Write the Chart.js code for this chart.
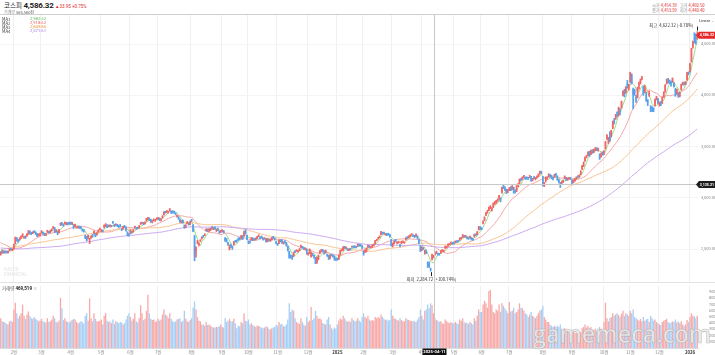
<!DOCTYPE html>
<html><head><meta charset="utf-8">
<script src="https://cdn.jsdelivr.net/npm/chart.js@4.4.1/dist/chart.umd.min.js"></script>
<style>
html,body{margin:0;padding:0;background:#fff;}
body{width:715px;height:355px;position:relative;overflow:hidden;font-family:"Noto Sans CJK KR","Noto Sans",sans-serif;}
.t{position:absolute;white-space:nowrap;line-height:1;}
canvas{position:absolute;left:0;}
.hl{position:absolute;left:0;width:715px;height:1px;background:#d0d0d0;}
</style></head><body>
<canvas id="price" width="715" height="268" style="top:15px"></canvas>
<canvas id="vol" width="715" height="72" style="top:283px"></canvas>
<div class="hl" style="top:14px"></div>
<div class="hl" style="top:282px;background:#e3e3e3"></div>

<div class="t" style="left:4px;top:2px;font-size:6.5px;color:#222;">코스피 <b style="font-size:8px;font-family:Roboto;letter-spacing:-0.2px">4,586.32</b> <span style="color:#e0262b;font-size:4.5px;font-family:Roboto">▲33.95 +0.75%</span></div>
<div class="t" style="left:4px;top:9.5px;font-size:4px;color:#888;">거래량 <span style="color:#555">565,560천</span></div>

<div class="t" style="left:2px;top:16.5px;font-size:4.2px;color:#444;line-height:4.1px;">MA1<br>MA2<br>MA3<br>MA4</div>
<div class="t" style="left:30px;top:16.5px;font-size:4.2px;line-height:4.1px;font-family:Roboto;">
<span style="color:#5cbf5c">2,982.52</span><br><span style="color:#ef6060">2,918.62</span><br><span style="color:#f39a3c">2,849.86</span><br><span style="color:#a877e6">2,571.61</span></div>

<div class="t" style="left:652px;top:3px;font-size:4.2px;color:#888;line-height:5px;">시가 <span style="color:#e0262b">4,454.39</span>&nbsp;&nbsp; 고가 <span style="color:#e0262b">4,460.50</span><br>종가 <span style="color:#e0262b">4,453.99</span>&nbsp;&nbsp; 저가 <span style="color:#e0262b">4,440.40</span></div>
<div class="t" style="left:699px;top:18.5px;font-size:4px;color:#333;font-family:Roboto;">Linear <span style="color:#999">⌄</span></div>

<div class="t" style="left:4px;top:268px;font-size:4.5px;color:#ebebeb;font-weight:bold;line-height:4.6px;font-family:Roboto;">NAVER<br>FINANCIAL</div>
<div class="t" style="left:2px;top:285.5px;font-size:4.5px;color:#555;">거래량 <b style="color:#222;font-family:Roboto">469,519</b> <span style="color:#aaa">×</span></div>

<div class="t" id="wm" style="left:533px;top:321px;font-size:25px;font-family:'Open Sans','Noto Sans',sans-serif;font-weight:600;color:rgba(232,232,232,0.9);-webkit-text-stroke:0.6px rgba(150,150,150,0.55);z-index:5;transform-origin:0 0;">gamemeca.com</div>

<script>
// ===== DATA (KOSPI daily, Jan 19 2024 – Jan 9 2026; one inner array per month) =====
const months = ['2024-01','2024-02','2024-03','2024-04','2024-05','2024-06','2024-07','2024-08','2024-09','2024-10','2024-11','2024-12',
 '2025-01','2025-02','2025-03','2025-04','2025-05','2025-06','2025-07','2025-08','2025-09','2025-10','2025-11','2025-12','2026-01'];
const tickLabels = ['','2월','3월','4월','5월','6월','7월','8월','9월','10월','11월','12월',
 '2025','2월','3월','4월','5월','6월','7월','8월','9월','10월','11월','12월','2026'];
const priceTicks = [2500, 3000, 3500, 4000, 4500];
const volumeTicks = [100, 200, 300, 400, 500, 600, 700, 800, 900];

// closes before the visible window (for moving averages)
const preClose = [2636,2592,2603,2608,2632,
 2667,2616,2605,2602,2580,2573,2605,2601,2591,2570,2525,2519,2504,2508,2515,2505,2537,2519,2543,2552,2561,2556,
 2563,2584,2582,2563,2548,2547,2536,2534,2536,2572,2601,2574,2559,2559,2508,2508,2496,2462,2465,
 2405,2403,2408,2402,2450,2479,2456,2436,2460,2462,2416,2375,2357,2383,2363,2299,2302,2310,2277,
 2301,2343,2368,2502,2443,2421,2427,2409,2403,2433,2486,2489,2469,2491,2510,2511,2514,2497,2496,2521,2522,2535,
 2505,2514,2495,2494,2492,2517,2525,2535,2510,2544,2563,2566,2568,2614,2600,2599,2602,2613,2655,
 2669,2607,2587,2578,2567,2561,2541,2540,2525,2525,2497,2436,2440];

const open = [
 [2450,2481,2471,2474,2477,2466,2486,2503,2491],
 [2506,2553,2611,2590,2589,2618,2638,2614,2623,2630,2650,2674,2658,2658,2676,2662,2644,2630,2637],
 [2660,2664,2648,2644,2665,2666,2667,2688,2706,2702,2673,2670,2660,2740,2755,2744,2750,2745,2755,2752],
 [2755,2750,2736,2720,2706,2713,2722,2716,2690,2680,2632,2624,2604,2590,2610,2640,2647,2650,2640,2669,2691],
 [2679,2681,2708,2731,2736,2720,2732,2721,2762,2739,2738,2736,2726,2736,2699,2698,2724,2714,2667,2644],
 [2650,2669,2670,2710,2706,2710,2710,2750,2754,2753,2748,2775,2795,2800,2788,2760,2782,2782,2791],
 [2795,2800,2786,2806,2835,2858,2866,2860,2876,2870,2868,2866,2851,2821,2813,2790,2770,2780,2727,2715,2750,2752,2740],
 [2783,2734,2630,2482,2560,2550,2580,2601,2627,2635,2680,2693,2680,2690,2716,2700,2712,2685,2698,2667,2672],
 [2676,2676,2610,2585,2560,2495,2540,2522,2541,2580,2589,2605,2606,2606,2630,2627,2681,2634],
 [2574,2578,2588,2609,2589,2597,2604,2630,2612,2625,2602,2600,2600,2575,2590,2581,2590,2620,2606,2575],
 [2550,2556,2586,2585,2553,2577,2560,2528,2474,2432,2420,2430,2476,2480,2475,2485,2512,2525,2515,2498,2497],
 [2450,2460,2426,2454,2434,2413,2370,2400,2458,2485,2490,2480,2470,2440,2428,2410,2444,2438,2426,2406],
 [2400,2400,2445,2490,2490,2523,2511,2500,2490,2503,2520,2525,2525,2520,2528,2545,2537,2530],
 [2480,2470,2475,2520,2530,2515,2525,2540,2552,2588,2600,2615,2640,2660,2660,2640,2645,2650,2640,2590],
 [2540,2555,2590,2560,2565,2540,2555,2570,2560,2590,2615,2615,2625,2642,2635,2628,2625,2625,2590,2530],
 [2490,2510,2460,2480,2370,2360,2300,2400,2420,2450,2460,2455,2450,2460,2485,2480,2510,2520,2530,2545,2555,2560],
 [2560,2570,2575,2578,2590,2605,2615,2630,2625,2615,2605,2610,2610,2600,2620,2645,2645,2690,2715],
 [2700,2750,2780,2830,2860,2880,2910,2880,2910,2950,2955,2975,2990,2990,3050,3110,3100,3075,3065],
 [3080,3095,3085,3100,3060,3065,3120,3140,3180,3185,3210,3200,3200,3195,3200,3205,3175,3200,3185,3200,3215,3240,3250],
 [3200,3130,3160,3195,3210,3225,3215,3190,3205,3230,3210,3175,3140,3145,3160,3190,3195,3180,3185,3195],
 [3170,3150,3165,3190,3210,3210,3230,3280,3315,3360,3400,3420,3450,3430,3460,3450,3475,3480,3470,3420,3400,3440],
 [3440,3480,3580,3550,3620,3600,3680,3760,3770,3830,3840,3860,3880,4000,4050,4030,4110,4100],
 [4130,4200,4060,4050,3980,3980,4100,4120,4160,4080,4030,4020,3950,4000,3880,3880,3870,3900,3970,3960],
 [3910,3930,3930,3990,4040,4120,4150,4140,4130,4130,4120,4060,4020,4020,3990,4060,4110,4120,4115,4150,4225],
 [4230,4330,4470,4560,4570,4579]
];
const high = [
 [2476,2491,2484,2483,2483,2481,2504,2506,2502],
 [2548,2617,2613,2594,2612,2629,2650,2623,2630,2650,2681,2678,2665,2670,2680,2669,2651,2648,2655],
 [2680,2669,2656,2652,2684,2673,2685,2696,2720,2712,2690,2675,2692,2756,2760,2746,2765,2760,2760,2762],
 [2765,2760,2738,2745,2717,2723,2725,2719,2694,2690,2636,2625,2637,2605,2630,2643,2677,2652,2660,2688,2705],
 [2690,2686,2736,2749,2740,2735,2737,2732,2771,2742,2746,2742,2730,2741,2700,2724,2730,2718,2669,2650],
 [2690,2675,2692,2724,2710,2715,2730,2757,2764,2760,2766,2800,2810,2805,2790,2778,2795,2786,2805],
 [2810,2805,2796,2826,2865,2870,2876,2870,2896,2873,2875,2870,2855,2832,2817,2794,2779,2784,2736,2738,2770,2757,2775],
 [2790,2740,2634,2522,2585,2560,2592,2620,2634,2650,2700,2698,2700,2706,2720,2709,2718,2694,2704,2679,2681],
 [2691,2682,2611,2603,2565,2540,2549,2527,2575,2584,2590,2609,2612,2633,2633,2675,2689,2636],
 [2580,2580,2613,2611,2603,2610,2625,2639,2620,2628,2605,2610,2602,2604,2596,2595,2614,2623,2611,2576],
 [2558,2590,2592,2592,2570,2583,2566,2530,2480,2445,2440,2472,2485,2494,2486,2505,2540,2528,2518,2511,2500],
 [2466,2502,2470,2458,2442,2420,2420,2443,2485,2496,2495,2485,2490,2450,2440,2445,2450,2445,2435,2412],
 [2410,2444,2490,2500,2525,2527,2522,2505,2500,2506,2530,2530,2533,2528,2550,2548,2545,2535],
 [2485,2490,2512,2540,2535,2528,2542,2550,2585,2595,2615,2630,2673,2665,2667,2652,2650,2655,2645,2595],
 [2560,2582,2595,2570,2578,2545,2578,2580,2570,2612,2620,2630,2640,2650,2640,2635,2648,2630,2595,2535],
 [2525,2515,2490,2490,2375,2375,2315,2450,2440,2465,2480,2460,2458,2485,2495,2490,2530,2528,2550,2555,2570,2565],
 [2570,2580,2580,2585,2610,2615,2642,2635,2632,2620,2612,2628,2615,2605,2646,2650,2672,2722,2720],
 [2710,2775,2815,2858,2880,2910,2925,2905,2950,2965,2975,2990,3025,3000,3105,3125,3110,3085,3080],
 [3100,3110,3120,3105,3070,3120,3140,3185,3190,3205,3220,3205,3205,3200,3220,3210,3190,3210,3200,3215,3235,3260,3260],
 [3210,3150,3205,3205,3235,3230,3220,3200,3230,3240,3215,3180,3150,3160,3175,3215,3200,3195,3200,3200],
 [3175,3175,3190,3205,3215,3225,3265,3317,3350,3400,3415,3450,3455,3465,3470,3475,3490,3490,3485,3430,3440,3450],
 [3460,3550,3617,3590,3646,3660,3750,3775,3815,3840,3885,3870,3945,4045,4060,4085,4146,4110],
 [4226,4210,4070,4060,4000,4080,4130,4160,4185,4090,4095,4030,3960,4040,3900,3890,3880,3965,3990,3970],
 [3935,3940,3985,4035,4105,4160,4165,4150,4140,4170,4125,4070,4060,4030,4030,4110,4130,4130,4135,4225,4230],
 [4315,4460,4530,4611,4600,4622.32]
];
const low = [
 [2441,2459,2462,2459,2461,2461,2483,2491,2484],
 [2496,2549,2578,2566,2586,2605,2620,2603,2603,2624,2644,2650,2640,2650,2660,2640,2620,2626,2630],
 [2655,2645,2630,2630,2662,2655,2660,2676,2698,2660,2668,2640,2655,2730,2730,2722,2742,2736,2735,2740],
 [2740,2738,2700,2716,2703,2705,2700,2696,2675,2665,2601,2580,2600,2554,2603,2618,2645,2620,2636,2664,2685],
 [2668,2667,2705,2720,2710,2716,2715,2716,2750,2718,2730,2717,2710,2717,2680,2695,2710,2675,2629,2627],
 [2648,2656,2666,2705,2693,2698,2705,2740,2745,2738,2742,2770,2786,2776,2760,2755,2775,2770,2789],
 [2790,2778,2774,2801,2832,2850,2856,2851,2872,2846,2850,2848,2836,2812,2790,2758,2755,2752,2702,2708,2746,2733,2738],
 [2769,2670,2386,2420,2550,2530,2572,2597,2614,2630,2675,2670,2672,2681,2695,2690,2692,2671,2679,2655,2661],
 [2667,2657,2575,2568,2535,2491,2513,2496,2538,2566,2566,2585,2590,2600,2593,2625,2645,2590],
 [2552,2557,2584,2582,2587,2588,2600,2622,2600,2605,2587,2595,2567,2570,2576,2575,2586,2603,2586,2550],
 [2535,2553,2570,2555,2548,2558,2528,2480,2410,2412,2400,2425,2465,2476,2470,2483,2510,2510,2495,2490,2450],
 [2440,2455,2420,2432,2410,2358,2360,2395,2455,2476,2475,2450,2460,2428,2398,2405,2432,2420,2390,2390],
 [2390,2398,2442,2480,2486,2505,2505,2485,2484,2490,2515,2512,2515,2510,2525,2530,2528,2505],
 [2440,2465,2472,2515,2515,2510,2518,2532,2550,2580,2596,2608,2638,2645,2648,2635,2630,2635,2615,2530],
 [2520,2550,2570,2550,2558,2520,2550,2562,2555,2588,2600,2610,2620,2635,2620,2612,2620,2600,2550,2475],
 [2485,2495,2450,2455,2320,2320,2284.72,2395,2415,2440,2455,2440,2440,2458,2478,2475,2505,2510,2525,2540,2550,2545],
 [2550,2560,2565,2570,2585,2598,2612,2615,2615,2598,2595,2605,2588,2585,2618,2630,2640,2685,2690],
 [2690,2745,2775,2825,2850,2875,2895,2870,2905,2935,2945,2965,2985,2960,3045,3090,3070,3040,3050],
 [3070,3070,3080,3045,3045,3060,3110,3135,3165,3178,3195,3180,3180,3180,3195,3160,3165,3185,3175,3195,3205,3230,3235],
 [3115,3110,3155,3180,3205,3205,3185,3175,3200,3215,3170,3145,3100,3135,3150,3185,3170,3170,3180,3180],
 [3135,3145,3160,3180,3195,3200,3225,3275,3305,3355,3390,3410,3405,3420,3435,3440,3460,3460,3455,3375,3395,3415],
 [3420,3475,3570,3530,3550,3595,3675,3720,3765,3790,3800,3810,3875,3995,3985,4020,4070,4050],
 [4125,4110,3870,4000,3930,3975,4060,4110,4150,4000,4025,3940,3900,3990,3840,3840,3840,3895,3955,3920],
 [3895,3900,3920,3980,4030,4110,4120,4115,4090,4125,4080,3990,4010,3980,3985,4050,4100,4100,4105,4145,4200],
 [4225,4325,4460,4510,4500,4545]
];
const close = [
 [2473,2465,2479,2469,2470,2478,2500,2498,2497],
 [2543,2615,2591,2577,2609,2620,2649,2620,2613,2648,2680,2657,2653,2664,2667,2647,2625,2642,2643],
 [2674,2649,2641,2648,2680,2660,2682,2693,2718,2667,2685,2656,2690,2754,2749,2737,2757,2755,2745,2747],
 [2748,2753,2706,2742,2714,2717,2705,2706,2681,2670,2609,2584,2634,2592,2629,2623,2675,2628,2656,2687,2692],
 [2684,2676,2734,2745,2712,2727,2727,2730,2753,2724,2742,2724,2721,2721,2687,2722,2722,2677,2635,2636],
 [2682,2662,2689,2722,2701,2705,2728,2754,2758,2745,2763,2797,2808,2784,2764,2774,2792,2784,2797],
 [2804,2780,2794,2824,2862,2857,2867,2867,2891,2857,2860,2856,2843,2824,2795,2763,2774,2758,2710,2731,2765,2738,2770],
 [2777,2676,2441,2522,2568,2556,2588,2618,2621,2644,2697,2675,2696,2701,2707,2701,2698,2689,2689,2662,2674],
 [2681,2664,2580,2576,2544,2535,2523,2513,2572,2575,2580,2593,2602,2631,2596,2671,2649,2593],
 [2561,2569,2611,2594,2599,2596,2623,2633,2610,2609,2593,2604,2570,2599,2581,2583,2613,2617,2593,2556],
 [2542,2588,2576,2563,2564,2561,2531,2482,2417,2418,2416,2469,2471,2482,2480,2501,2534,2520,2504,2504,2455],
 [2455,2500,2464,2442,2428,2360,2417,2442,2482,2494,2488,2456,2484,2435,2404,2442,2440,2429,2404,2399],
 [2399,2441,2488,2492,2521,2515,2515,2489,2497,2498,2527,2523,2520,2519,2547,2537,2536,2517],
 [2453,2482,2510,2537,2522,2521,2539,2548,2583,2591,2611,2626,2671,2654,2655,2645,2642,2641,2621,2532],
 [2558,2580,2576,2563,2571,2537,2574,2574,2566,2610,2612,2628,2637,2643,2630,2617,2643,2607,2557,2481],
 [2521,2505,2486,2465,2328,2334,2293,2445,2432,2454,2477,2447,2447,2483,2488,2486,2525,2522,2546,2548,2565,2556],
 [2559,2574,2573,2577,2607,2608,2640,2621,2626,2603,2601,2625,2593,2592,2644,2637,2670,2720,2697],
 [2698,2770,2812,2855,2871,2907,2920,2895,2946,2950,2972,2977,3021,2972,3103,3108,3079,3055,3071],
 [3089,3075,3116,3054,3059,3115,3133,3183,3175,3202,3215,3192,3191,3188,3211,3169,3183,3190,3196,3210,3230,3254,3245],
 [3119,3147,3199,3198,3228,3210,3189,3189,3224,3225,3177,3151,3130,3157,3168,3210,3179,3187,3196,3186],
 [3142,3172,3184,3200,3205,3219,3260,3314,3344,3396,3407,3449,3413,3461,3445,3468,3486,3472,3471,3386,3431,3425],
 [3455,3549,3610,3584,3561,3657,3748,3748,3814,3823,3883,3845,3941,4042,4010,4081,4086,4107],
 [4221,4121,4004,4026,3953,4073,4106,4150,4170,4011,4089,3953,3929,4004,3853,3846,3857,3960,3986,3926],
 [3920,3914,3977,4028,4100,4154,4143,4135,4110,4167,4090,3999,4056,3994,4020,4105,4118,4108,4129,4220,4214],
 [4309,4457,4525,4551,4552,4586.32]
];
// volume, thousand shares (k)
const volume = [
 [480,430,420,410,390,380,430,440,420],
 [620,730,560,480,520,560,700,520,470,540,590,520,480,470,500,470,450,430,440],
 [470,430,420,410,480,420,430,460,520,480,420,410,440,810,640,450,480,430,420,410],
 [430,450,470,460,420,400,410,430,420,390,520,560,440,800,480,430,560,470,430,430,440],
 [460,380,520,560,440,420,430,400,460,390,430,420,400,420,410,380,400,460,520,560],
 [500,440,470,560,430,410,480,690,560,450,470,600,860,560,470,450,460,420,430],
 [470,440,460,540,620,540,520,480,560,470,430,420,430,460,470,480,420,440,600,470,430,420,450],
 [480,650,750,620,500,440,430,380,380,360,420,370,380,360,340,330,330,340,340,350,380],
 [340,330,480,420,440,470,430,430,470,400,320,360,350,420,400,560,440,430],
 [460,380,400,370,350,340,360,360,340,330,320,330,350,340,310,300,320,330,340,370],
 [360,420,380,390,350,350,380,460,720,580,620,600,480,420,400,390,480,420,380,360,500],
 [420,440,660,450,480,600,520,470,480,460,400,390,380,460,500,380,320,300,330,310],
 [380,440,480,460,520,480,440,420,430,420,480,450,430,440,480,440,420,500],
 [560,500,480,520,460,440,450,440,500,480,500,480,540,500,470,450,460,440,450,620],
 [520,480,470,450,440,480,450,430,430,480,460,450,440,430,440,430,420,460,500,620],
 [520,460,600,620,700,640,720,690,560,480,450,440,420,430,400,390,460,430,410,400,420,400],
 [400,420,400,390,460,440,480,420,400,410,390,420,400,380,480,440,520,620,580],
 [580,700,760,720,650,920,940,700,580,560,620,600,700,580,720,680,640,600,560],
 [740,590,600,650,560,580,620,720,650,640,600,560,540,500,540,580,520,500,480,520,560,600,620],
 [680,500,460,420,420,380,360,340,360,340,360,340,380,300,280,320,290,270,260,250],
 [280,260,250,240,230,220,260,320,340,380,330,360,320,340,300,290,310,280,280,340,310,300],
 [420,730,480,430,480,500,560,520,540,560,530,500,550,600,520,560,540,520],
 [600,560,620,500,480,460,440,470,430,500,440,460,470,420,520,480,440,460,420,400],
 [380,370,420,440,450,470,420,400,410,430,420,460,410,430,400,430,380,360,380,450,420],
 [500,560,520,510,480,520]
];
const maPeriods = [5, 20, 60, 120];
const crossMonth = '2025-04', crossSlot = 8, crossDate = '2025-04-11', crossPrice = 3135.21;

// fit watermark to its width in the reference
(function () { const w = document.getElementById('wm'); const r = w.getBoundingClientRect().width; if (r > 0) w.style.transform = 'scaleX(' + (178 / r) + ')'; })();

// ===== BUILD =====
const O = open.flat(), H = high.flat(), L = low.flat(), C = close.flat(), V = volume.flat();
const labels = [], monthStart = new Set(), tickAt = {}, yearTick = new Set();
let k = 0, crossIndex = 0, bad = [];
close.forEach((m, mi) => {
  [open, high, low, volume].forEach(a => { if (a[mi].length !== m.length) bad.push(months[mi]); });
  monthStart.add(k); tickAt[k] = tickLabels[mi];
  if (/^\d{4}$/.test(tickLabels[mi])) yearTick.add(k);
  if (months[mi] === crossMonth) crossIndex = k + crossSlot;
  m.forEach((_, d) => { labels.push(months[mi] + '#' + (d + 1)); k++; });
});
if (bad.length) document.body.insertAdjacentHTML('beforeend', '<div class="t" style="left:200px;top:100px;color:red;font-size:14px">LEN ' + bad.join(',') + '</div>');

const allC = preClose.concat(C), P = preClose.length;
function ma(n) { return C.map((_, i) => { const j = P + i; let s = 0; for (let t = j - n + 1; t <= j; t++) s += allC[t]; return s / n; }); }
const fmt = v => v.toLocaleString('en-US', {minimumFractionDigits: 2, maximumFractionDigits: 2});

const UP = '#f26565', DOWN = '#56a1ec', VUP = '#f8a9a8', VDOWN = '#a7cff6';
const candleCol = C.map((c, i) => c >= O[i] ? UP : DOWN);
const volCol = C.map((c, i) => c >= O[i] ? VUP : VDOWN);
const gridCol = c => monthStart.has(c.index) && c.index > 0 ? '#f0f0f0' : 'rgba(0,0,0,0)';
Chart.defaults.font.family = 'Roboto, "Noto Sans CJK KR", sans-serif';

function box(ctx, x, y, w, fill, text, notch) {
  ctx.fillStyle = fill;
  ctx.beginPath();
  if (notch) { ctx.moveTo(x - 2, y); ctx.lineTo(x + 1, y - 3.5); ctx.lineTo(x + w, y - 3.5); ctx.lineTo(x + w, y + 3.5); ctx.lineTo(x + 1, y + 3.5); ctx.closePath(); }
  else ctx.rect(x, y - 3.5, w, 7);
  ctx.fill();
  ctx.fillStyle = '#fff'; ctx.font = 'bold 3.6px Roboto'; ctx.textAlign = 'left'; ctx.textBaseline = 'middle';
  ctx.fillText(text, x + 1.8, y + 0.3);
}

const priceOverlay = { id: 'po', afterDatasetsDraw(chart) {
  const {ctx, chartArea: a, scales: {x, y}} = chart;
  ctx.save();
  let hi = 0, lo = 0;
  H.forEach((v, i) => { if (v > H[hi]) hi = i; });
  L.forEach((v, i) => { if (v < L[lo]) lo = i; });
  const last = C[C.length - 1];
  ctx.strokeStyle = '#222'; ctx.lineWidth = 1;
  const hx = Math.round(x.getPixelForValue(hi)) + 0.5, hy = y.getPixelForValue(H[hi]);
  ctx.beginPath(); ctx.moveTo(hx, hy - 1); ctx.lineTo(hx, hy - 5); ctx.stroke();
  ctx.font = '4.3px "Noto Sans CJK KR"'; ctx.fillStyle = '#333'; ctx.textBaseline = 'middle'; ctx.textAlign = 'right';
  const hp = (last / H[hi] - 1) * 100;
  ctx.fillText('최고  ' + fmt(H[hi]) + ' (' + (hp >= 0 ? '+' : '') + hp.toFixed(2) + '%)', hx - 4, hy - 6);
  const lx = Math.round(x.getPixelForValue(lo)) + 0.5, ly = y.getPixelForValue(L[lo]);
  ctx.beginPath(); ctx.moveTo(lx, ly + 1); ctx.lineTo(lx, ly + 5); ctx.stroke();
  const lp = (last / L[lo] - 1) * 100;
  ctx.textAlign = 'center';
  ctx.fillText('최저  ' + fmt(L[lo]) + ' (' + (lp >= 0 ? '+' : '') + lp.toFixed(2) + '%)', lx, ly + 8);
  ctx.strokeStyle = '#c8c8c8';
  const cx = Math.round(x.getPixelForValue(crossIndex)) + 0.5;
  ctx.beginPath(); ctx.moveTo(cx, a.top); ctx.lineTo(cx, a.bottom); ctx.stroke();
  const cy = Math.round(y.getPixelForValue(crossPrice)) + 0.5;
  ctx.beginPath(); ctx.moveTo(a.left, cy); ctx.lineTo(a.right, cy); ctx.stroke();
  box(ctx, a.right, cy, 17, '#1e1e1e', fmt(crossPrice), true);
  box(ctx, a.right, y.getPixelForValue(last), 17, '#e5262b', fmt(last), true);
  ctx.restore();
}};

const volOverlay = { id: 'vo', afterDatasetsDraw(chart) {
  const {ctx, chartArea: a, scales: {x}} = chart;
  ctx.save();
  const cx = Math.round(x.getPixelForValue(crossIndex)) + 0.5;
  ctx.strokeStyle = '#c8c8c8'; ctx.lineWidth = 1;
  ctx.beginPath(); ctx.moveTo(cx, 0); ctx.lineTo(cx, a.bottom); ctx.stroke();
  ctx.fillStyle = '#111'; ctx.fillRect(cx - 12, a.bottom + 0.5, 24, 7);
  ctx.fillStyle = '#fff'; ctx.font = 'bold 4.2px Roboto'; ctx.textAlign = 'center'; ctx.textBaseline = 'middle';
  ctx.fillText(crossDate, cx, a.bottom + 4.2);
  ctx.restore();
}};

const lineDs = (data, color) => ({type: 'line', data, borderColor: color, borderWidth: 1, pointRadius: 0, tension: 0, order: 2});
new Chart(document.getElementById('price'), {
  type: 'bar',
  data: {labels, datasets: [
    lineDs(ma(maPeriods[3]), '#c9a6f1'),
    lineDs(ma(maPeriods[2]), '#f8c28e'),
    lineDs(ma(maPeriods[1]), '#f5a4a4'),
    lineDs(ma(maPeriods[0]), '#9fdb8c'),
    {data: H.map((h, i) => [L[i], h]), backgroundColor: candleCol, barThickness: 1, grouped: false, order: 1},
    {data: O.map((o, i) => [o, C[i]]), backgroundColor: candleCol, barPercentage: 0.95, categoryPercentage: 1, grouped: false, minBarLength: 1, order: 0}
  ]},
  options: {
    responsive: false, animation: false, devicePixelRatio: 1, events: [],
    layout: {padding: 0},
    plugins: {legend: {display: false}, tooltip: {enabled: false}},
    scales: {
      x: {offset: true, grid: {offset: true, color: gridCol, drawTicks: false}, ticks: {display: false}, border: {display: false},
          afterFit: s => { s.height = 0; s.paddingLeft = 0; s.paddingRight = 0; }},
      y: {position: 'right', min: 2169, max: 4784,
          afterBuildTicks: s => { s.ticks = priceTicks.map(v => ({value: v})); },
          ticks: {font: {size: 4}, color: '#8a8a8a', padding: 3, callback: v => fmt(v)},
          grid: {color: '#f4f4f4', drawTicks: false}, border: {display: false},
          afterFit: s => { s.width = 17; s.paddingTop = 0; s.paddingBottom = 0; }}
    }
  },
  plugins: [priceOverlay]
});

new Chart(document.getElementById('vol'), {
  type: 'bar',
  data: {labels, datasets: [{data: V, backgroundColor: volCol, barPercentage: 0.9, categoryPercentage: 1}]},
  options: {
    responsive: false, animation: false, devicePixelRatio: 1, events: [],
    layout: {padding: {top: 3}},
    plugins: {legend: {display: false}, tooltip: {enabled: false}},
    scales: {
      x: {offset: true, grid: {offset: true, color: gridCol, drawTicks: false}, border: {display: true, color: '#dcdcdc'},
          ticks: {autoSkip: false, maxRotation: 0, padding: 1.5,
                  font: c => ({size: 4.3, weight: yearTick.has(c.index) ? 'bold' : 'normal', family: '"Noto Sans CJK KR", Roboto'}),
                  color: c => yearTick.has(c.index) ? '#333' : '#888',
                  callback: (v, i) => tickAt[i] !== undefined ? tickAt[i] : ''},
          afterFit: s => { s.height = 7; s.paddingLeft = 0; s.paddingRight = 0; }},
      y: {position: 'right', min: 0, max: 1000,
          afterBuildTicks: s => { s.ticks = volumeTicks.map(v => ({value: v})); },
          ticks: {font: {size: 3.8}, color: '#8a8a8a', padding: 3, callback: v => v + 'k'},
          grid: {display: false}, border: {display: false},
          afterFit: s => { s.width = 17; s.paddingTop = 0; s.paddingBottom = 0; }}
    }
  },
  plugins: [volOverlay]
});
</script>
</body></html>
